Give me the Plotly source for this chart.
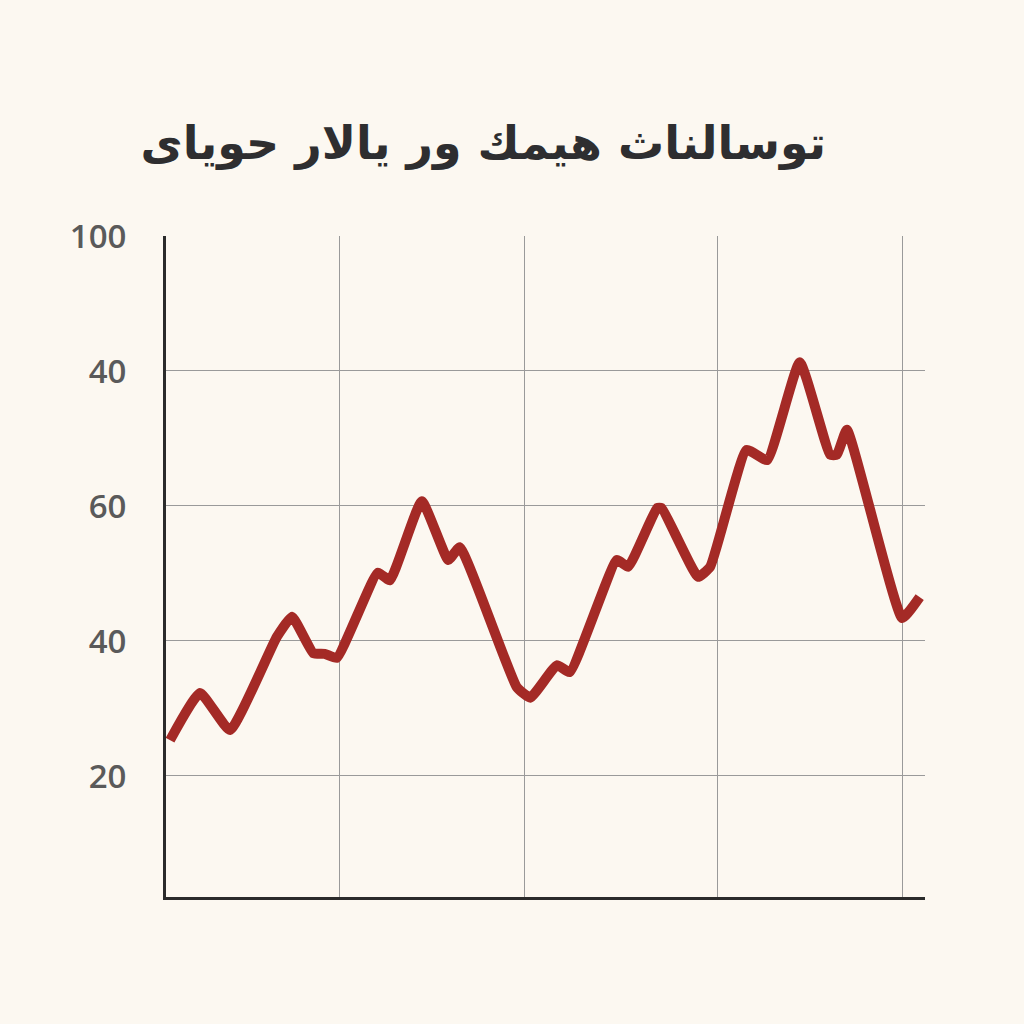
import plotly.graph_objects as go

title_text = "توسالناث هيمك ور يالار حوياى"

x_vals = [0.53, 4.48, 8.43, 14.6, 16.6, 19.4, 20.9, 22.5, 27.9, 29.5, 33.7,
          37.2, 38.7, 46.2, 48.0, 51.5, 53.2, 59.4, 60.9, 64.7, 65.3, 70.1,
          71.7, 76.5, 79.2, 83.5, 87.5, 88.4, 89.7, 97.0, 99.3]
y_vals = [25.3, 32.3, 26.8, 40.6, 43.6, 38.2, 38.1, 37.5, 50.1, 49.0, 60.7,
          52.0, 53.9, 33.2, 31.6, 36.4, 35.4, 52.0, 51.0, 59.7, 59.7, 49.5,
          51.0, 68.3, 66.8, 81.3, 67.6, 67.6, 71.3, 43.4, 46.5]

y_tick_vals = [20, 40, 60, 80, 100]
y_tick_text = ["20", "40", "60", "40", "100"]
x_grid_vals = [22.9, 47.2, 72.6, 97.1]

bg = "#fcf8f1"

fig = go.Figure()
fig.add_trace(go.Scatter(
    x=x_vals, y=y_vals, mode="lines",
    line=dict(color="#a42a26", width=10, shape="spline", smoothing=0.4),
    hoverinfo="skip", showlegend=False,
))

fig.update_layout(
    width=1024, height=1024,
    paper_bgcolor=bg, plot_bgcolor=bg,
    margin=dict(l=166, r=99, t=236, b=127),
    title=dict(
        text=title_text, x=0.472, xanchor="center", y=0.86, yanchor="middle",
        font=dict(family="DejaVu Sans", size=46, color="#2e2e30", weight="bold"),
    ),
    xaxis=dict(
        range=[0, 100], tickvals=x_grid_vals, showticklabels=False, ticks="",
        showgrid=True, gridcolor="#9a9a9a", gridwidth=1,
        showline=True, linecolor="#2b2b2b", linewidth=3, zeroline=False,
    ),
    yaxis=dict(
        range=[2.07, 100], tickvals=y_tick_vals, ticktext=y_tick_text,
        ticks="", ticklabelstandoff=30,
        tickfont=dict(family="Open Sans", size=33, color="#5a5a5a", weight=600),
        showgrid=True, gridcolor="#9a9a9a", gridwidth=1,
        showline=True, linecolor="#2b2b2b", linewidth=3, zeroline=False,
    ),
)

fig.write_html("out.html", config={"displayModeBar": False},
               post_script="document.body.style.margin='0';")
